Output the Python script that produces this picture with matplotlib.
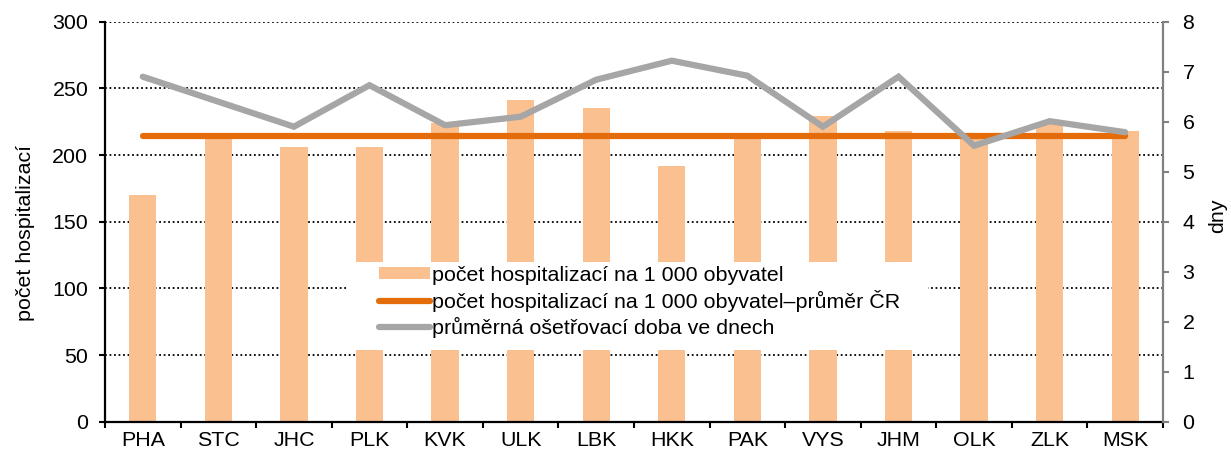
import matplotlib
matplotlib.use("Agg")
import matplotlib.pyplot as plt
from matplotlib.patches import Rectangle, Patch
from matplotlib.lines import Line2D
import numpy as np

plt.rcParams['font.family'] = ['Liberation Sans', 'DejaVu Sans']

regions = ["PHA", "STC", "JHC", "PLK", "KVK", "ULK", "LBK", "HKK", "PAK", "VYS", "JHM", "OLK", "ZLK", "MSK"]
hosp_per_1000 = [170, 212, 206, 206, 224, 241, 235, 192, 214, 229, 218, 214, 225, 218]
hosp_cr_mean = 214
avg_los_days = [6.9, 6.4, 5.9, 6.73, 5.93, 6.1, 6.84, 7.22, 6.92, 5.9, 6.9, 5.52, 6.01, 5.79]

label_bars = "počet hospitalizací na 1 000 obyvatel"
label_mean = "počet hospitalizací na 1 000 obyvatel–průměr ČR"
label_los = "průměrná ošetřovací doba ve dnech"

BAR_C = "#FAC090"
ORANGE = "#E46C0A"
GRAY = "#A6A6A6"
FS = 15.4

fig = plt.figure(figsize=(12.31, 4.53), dpi=100)
ax = fig.add_axes([105/1231, 1 - 421.7/453, (1163-105)/1231, 400/453])
ax2 = ax.twinx()

x = np.arange(len(regions))
ax.set_axisbelow(True)
ax.bar(x, hosp_per_1000, width=0.36, color=BAR_C, zorder=2)
ax.plot([x[0], x[-1]], [hosp_cr_mean, hosp_cr_mean], color=ORANGE, lw=4.5,
        solid_capstyle='round', zorder=4)
ax2.plot(x, avg_los_days, color=GRAY, lw=4.5, solid_capstyle='round',
         solid_joinstyle='miter', zorder=3)

ax.set_xlim(-0.5, len(regions) - 0.5)
ax.set_ylim(0, 300)
ax.set_yticks(np.arange(0, 301, 50))
ax2.set_ylim(0, 8)
ax2.set_yticks(np.arange(0, 9, 1))

ax.yaxis.grid(True, color='black', linestyle=(0, (1, 1.5)), linewidth=1.3, zorder=0)
ax.xaxis.grid(False)

ax.set_xticks(x)
ax.set_xticklabels(regions, fontsize=FS)
ax.set_xticks(np.arange(-0.5, len(regions), 1), minor=True)
ax.tick_params(axis='x', which='major', length=0, pad=7)
ax.tick_params(axis='x', which='minor', length=4, width=1.5, direction='out', color='black')
ax.tick_params(axis='y', length=4, width=1.5, labelsize=FS, pad=8)
ax2.tick_params(axis='y', length=4, width=1.5, labelsize=FS, pad=10, color='#808080')

for a in (ax, ax2):
    a.spines['top'].set_visible(False)
ax.spines['right'].set_visible(False)
ax2.spines['left'].set_visible(False)
ax2.spines['bottom'].set_visible(False)
ax.spines['left'].set_linewidth(1.6)
ax.spines['bottom'].set_linewidth(1.6)
ax2.spines['right'].set_color('#808080')
ax2.spines['right'].set_linewidth(1.6)

ax.set_ylabel("počet hospitalizací", fontsize=FS)
ax.yaxis.set_label_coords((35-105)/1058, (421.7-233)/400)
ax2.set_ylabel("dny", fontsize=FS)
ax2.yaxis.set_label_coords((1208-105)/1058, (421.7-216)/400)

# white legend box
ax.add_patch(Rectangle(((347-105)/1058, (421.7-350)/400), (928-347)/1058, (350-262)/400,
                       transform=ax.transAxes, facecolor='white', edgecolor='none', zorder=5))

handles = [Patch(facecolor=BAR_C, edgecolor='none'),
           Line2D([], [], color=ORANGE, lw=4.5, solid_capstyle='round'),
           Line2D([], [], color=GRAY, lw=4.5, solid_capstyle='round')]
leg = ax2.legend(handles, [label_bars, label_mean, label_los], loc='center left',
                 bbox_to_anchor=((379-105)/1058, (421.7-302)/400), frameon=False,
                 fontsize=FS, handlelength=2.38, handletextpad=0.1, labelspacing=0.25,
                 borderpad=0, borderaxespad=0, handleheight=0.55)
leg.set_zorder(10)

fig.savefig("out.png", dpi=100)
